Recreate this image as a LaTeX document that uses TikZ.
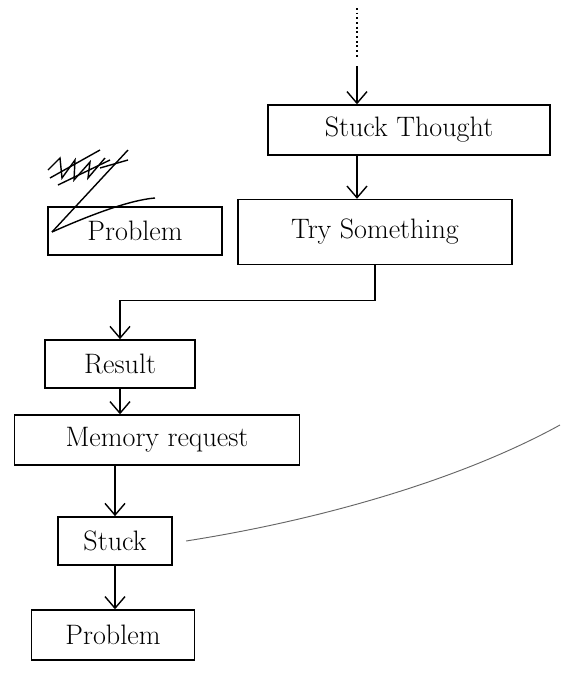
\documentclass[tikz,border=0pt]{standalone}
\usetikzlibrary{arrows.meta}
\usetikzlibrary{positioning}

\tikzset{
  box/.style={draw, line width=1.2pt, rectangle, minimum height=1.45cm, inner sep=0pt, font=\fontsize{24}{26}\selectfont},
  flow/.style={line width=1.2pt, -{Straight Barb[length=3.5mm,width=6mm]}}
}

\begin{document}
\begin{tikzpicture}[x=0.03cm,y=-0.03cm]
\useasboundingbox (0,0) rectangle (560,673);

\node[box,minimum width=8.46cm,minimum height=1.5cm] (thought) at (409,130) {Stuck Thought};
\node[box,minimum width=5.22cm] (problemA) at (135,231) {Problem};
\node[box,minimum width=8.22cm,minimum height=1.95cm] (trysome) at (375,232) {Try Something};
\node[box,minimum width=4.5cm] (result) at (120,364) {Result};
\node[box,minimum width=8.55cm,minimum height=1.5cm] (memory) at (157,440) {Memory request};
\node[box,minimum width=3.42cm] (stuck) at (115,541) {Stuck};
\node[box,minimum width=4.89cm,minimum height=1.5cm] (problemB) at (113,635) {Problem};

% dotted lead-in
\coordinate (top) at (357,8);
\coordinate (dotend) at (357,58);
\coordinate (offedge) at (560,425);
\draw[line width=1.2pt,dash pattern=on 1.5pt off 2.5pt] (top) -- (dotend);
\draw[flow] (357,66) -- (thought.north -| top);

\draw[flow] (thought.south -| top) -- (trysome.north -| top);
\draw[flow] (trysome.south) -- ++(0,35) -| (result.north);
\draw[flow] (result.south) -- (result.south |- memory.north);
\draw[flow] (memory.south -| stuck.north) -- (stuck.north);
\draw[flow] (stuck.south) -- (stuck.south |- problemB.north);
\draw[gray!80!black,line width=0.8pt] ([xshift=0.4cm]stuck.east) .. controls (320,520) and (460,480) .. (offedge);

% crossed-out scribble
\draw[line width=1.2pt] (52,232) -- (128,150);
\draw[line width=1.2pt] (52,232) .. controls (90,215) and (130,200) .. (155,198);
\draw[line width=1.2pt] (48,170) -- (60,158) -- (62,178) -- (75,160) -- (74,180) -- (90,162) -- (88,178) -- (105,158);
\draw[line width=1.2pt] (50,178) -- (100,150);
\draw[line width=1.2pt] (58,185) -- (110,160);
\draw[line width=1.2pt] (100,168) -- (128,160);
\end{tikzpicture}
\end{document}
